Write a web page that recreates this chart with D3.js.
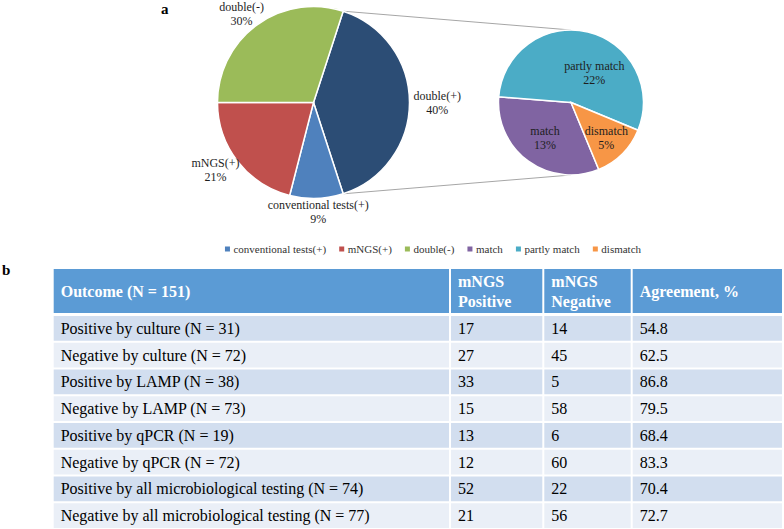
<!DOCTYPE html>
<html>
<head>
<meta charset="utf-8">
<script src="https://cdn.jsdelivr.net/npm/d3@7"></script>
<style>
body { margin: 0; background: #fff; }
svg text { font-family: "Liberation Serif", "Times New Roman", serif; }
</style>
</head>
<body>
<div id="chart"></div>
<script>
// pie of pie (percent of patients)
var mainLabels = ["double(+)", "conventional tests(+)", "mNGS(+)", "double(-)"];
var mainValues = [40, 9, 21, 30];
var subLabels = ["match", "partly match", "dismatch"];
var subValues = [13, 22, 5];
var legendLabels = ["conventional tests(+)", "mNGS(+)", "double(-)", "match", "partly match", "dismatch"];

// table b
var headerLines = [["Outcome (N = 151)"], ["mNGS", "Positive"], ["mNGS", "Negative"], ["Agreement, %"]];
var outcomes = ["Positive by culture (N = 31)", "Negative by culture (N = 72)",
    "Positive by LAMP (N = 38)", "Negative by LAMP (N = 73)",
    "Positive by qPCR (N = 19)", "Negative by qPCR (N = 72)",
    "Positive by all microbiological testing (N = 74)", "Negative by all microbiological testing (N = 77)"];
var mngsPositive = [17, 27, 33, 15, 13, 12, 52, 21];
var mngsNegative = [14, 45, 5, 58, 6, 60, 22, 56];
var agreement = ["54.8", "62.5", "86.8", "79.5", "68.4", "83.3", "70.4", "72.7"];

function init() {
    var w = 784, h = 529;
    var svg = d3.select("#chart").append("svg")
        .attr("width", w).attr("height", h);

    var colors = {
        "double(+)": "#2c4d75",
        "conventional tests(+)": "#4f81bd",
        "mNGS(+)": "#c0504d",
        "double(-)": "#9bbb59",
        "match": "#8064a2",
        "partly match": "#4bacc6",
        "dismatch": "#f79646"
    };
    var labelColor = "#1e1e1e";

    // panel letters
    svg.append("text").attr("x", 161).attr("y", 14).text("a")
        .style("font-weight", "bold").style("font-size", "15px");
    svg.append("text").attr("x", 2).attr("y", 275).text("b")
        .style("font-weight", "bold").style("font-size", "15px");

    // ---- main pie
    var cx1 = 313.5, cy1 = 102.5, r1 = 96;
    var total1 = d3.sum(mainValues);
    var start1 = Math.PI / 2 - Math.PI * mainValues[0] / total1;
    var mainData = mainLabels.map(function(d, i){ return {name: d, v: mainValues[i]}; });
    var pie1 = d3.pie().sort(null).value(function(d){ return d.v; })
        .startAngle(start1).endAngle(start1 + 2 * Math.PI);
    var arcs1 = pie1(mainData);
    var arc1 = d3.arc().innerRadius(0).outerRadius(r1);

    // ---- secondary pie
    var cx2 = 571, cy2 = 102.5, r2 = 72.5;
    var total2 = d3.sum(subValues);
    var start2 = Math.PI - Math.PI * subValues[2] / total2;
    var subData = subLabels.map(function(d, i){ return {name: d, v: subValues[i]}; });
    var pie2 = d3.pie().sort(null).value(function(d){ return d.v; })
        .startAngle(start2).endAngle(start2 + 2 * Math.PI);
    var arcs2 = pie2(subData);
    var arc2 = d3.arc().innerRadius(0).outerRadius(r2);

    // connector lines
    var a0 = arcs1[0].startAngle, a1 = arcs1[0].endAngle;
    var conn = [
        [cx1 + r1 * Math.sin(a0), cy1 - r1 * Math.cos(a0), cx2, cy2 - r2],
        [cx1 + r1 * Math.sin(a1), cy1 - r1 * Math.cos(a1), cx2, cy2 + r2]
    ];
    svg.selectAll("line.conn").data(conn).enter().append("line")
        .attr("class", "conn")
        .attr("x1", function(d){ return d[0]; }).attr("y1", function(d){ return d[1]; })
        .attr("x2", function(d){ return d[2]; }).attr("y2", function(d){ return d[3]; })
        .attr("stroke", "#a6a6a6").attr("stroke-width", 1);

    var g1 = svg.append("g").attr("transform", "translate(" + cx1 + "," + cy1 + ")");
    g1.selectAll("path").data(arcs1).enter().append("path")
        .attr("d", arc1)
        .attr("fill", function(d){ return colors[d.data.name]; })
        .attr("stroke", "#fff").attr("stroke-width", 1.5);

    var g2 = svg.append("g").attr("transform", "translate(" + cx2 + "," + cy2 + ")");
    g2.selectAll("path").data(arcs2).enter().append("path")
        .attr("d", arc2)
        .attr("fill", function(d){ return colors[d.data.name]; })
        .attr("stroke", "#fff").attr("stroke-width", 1.5);

    function twoLines(g, name, value) {
        var t = g.append("text").attr("text-anchor", "middle")
            .style("font-size", "12px").style("fill", labelColor);
        t.append("tspan").attr("x", 0).attr("y", -3).text(name);
        t.append("tspan").attr("x", 0).attr("y", 11).text(value + "%");
        return t;
    }

    // outside-end labels of the main pie
    arcs1.forEach(function(d){
        var mid = (d.startAngle + d.endAngle) / 2;
        var lg = svg.append("g");
        var t = twoLines(lg, d.data.name, d.data.v);
        var bw = t.node().getBBox().width;
        var x = cx1 + (r1 + 4) * Math.sin(mid) + Math.sin(mid) * bw / 2;
        var y = cy1 - (r1 + 4) * Math.cos(mid) - Math.cos(mid) * 10;
        lg.attr("transform", "translate(" + x + "," + y + ")");
    });

    // inside labels of the secondary pie (best fit)
    var nudgeAngle = {"partly match": 0.43};
    var nudgeRadius = {"partly match": 0.52, "match": 0.61, "dismatch": 0.69};
    arcs2.forEach(function(d){
        var mid = (d.startAngle + d.endAngle) / 2 + (nudgeAngle[d.data.name] || 0);
        var rr = r2 * (nudgeRadius[d.data.name] || 0.62);
        var lg = svg.append("g")
            .attr("transform", "translate(" + (cx2 + rr * Math.sin(mid)) + "," + (cy2 - rr * Math.cos(mid)) + ")");
        twoLines(lg, d.data.name, d.data.v);
    });

    // legend
    var leg = svg.append("g");
    var lx = 0;
    legendLabels.forEach(function(name){
        var it = leg.append("g").attr("transform", "translate(" + lx + ",0)");
        it.append("rect").attr("x", -2.5).attr("y", -3).attr("width", 5).attr("height", 5)
            .attr("fill", colors[name]);
        var t = it.append("text").attr("x", 6).attr("y", 3.8).text(name)
            .style("font-size", "11px").style("fill", "#333");
        lx += 6 + t.node().getComputedTextLength() + 15.6;
    });
    var legW = lx - 15.6 + 2.5;
    leg.attr("transform", "translate(" + (433 - legW / 2 + 2.5) + ",249.5)");

    // ---- table
    var colEdges = [52.7, 450, 543.3, 631.7, 783];
    var headTop = 269, rowTop = 315, rowBottom = 529;
    var yRow = d3.scaleBand().domain(outcomes).range([rowTop, rowBottom]);
    var tbl = svg.append("g");

    // header
    headerLines.forEach(function(lines, c){
        tbl.append("rect")
            .attr("x", colEdges[c] + 1).attr("y", headTop)
            .attr("width", colEdges[c + 1] - colEdges[c] - 2).attr("height", rowTop - headTop - 2)
            .attr("fill", "#5b9bd5");
        var mid = (headTop + rowTop - 2) / 2;
        var t = tbl.append("text").style("font-size", "16px").style("font-weight", "bold")
            .style("fill", "#fff");
        lines.forEach(function(s, k){
            t.append("tspan").attr("x", colEdges[c] + 8)
                .attr("y", mid + 5.5 + (k - (lines.length - 1) / 2) * 20)
                .text(s);
        });
    });

    // body rows
    var rows = outcomes.map(function(d, i){
        return [d, mngsPositive[i], mngsNegative[i], agreement[i]];
    });
    rows.forEach(function(cells, i){
        var y = yRow(outcomes[i]);
        cells.forEach(function(v, c){
            tbl.append("rect")
                .attr("x", colEdges[c] + 1).attr("y", y + 1)
                .attr("width", colEdges[c + 1] - colEdges[c] - 2).attr("height", yRow.bandwidth() - 2)
                .attr("fill", i % 2 === 0 ? "#d2deef" : "#eaeff7");
            tbl.append("text").attr("x", colEdges[c] + 8)
                .attr("y", y + yRow.bandwidth() / 2 + 5.5)
                .text(v)
                .style("font-size", "16px").style("fill", "#000");
        });
    });
}
window.onload = init;
</script>
</body>
</html>
